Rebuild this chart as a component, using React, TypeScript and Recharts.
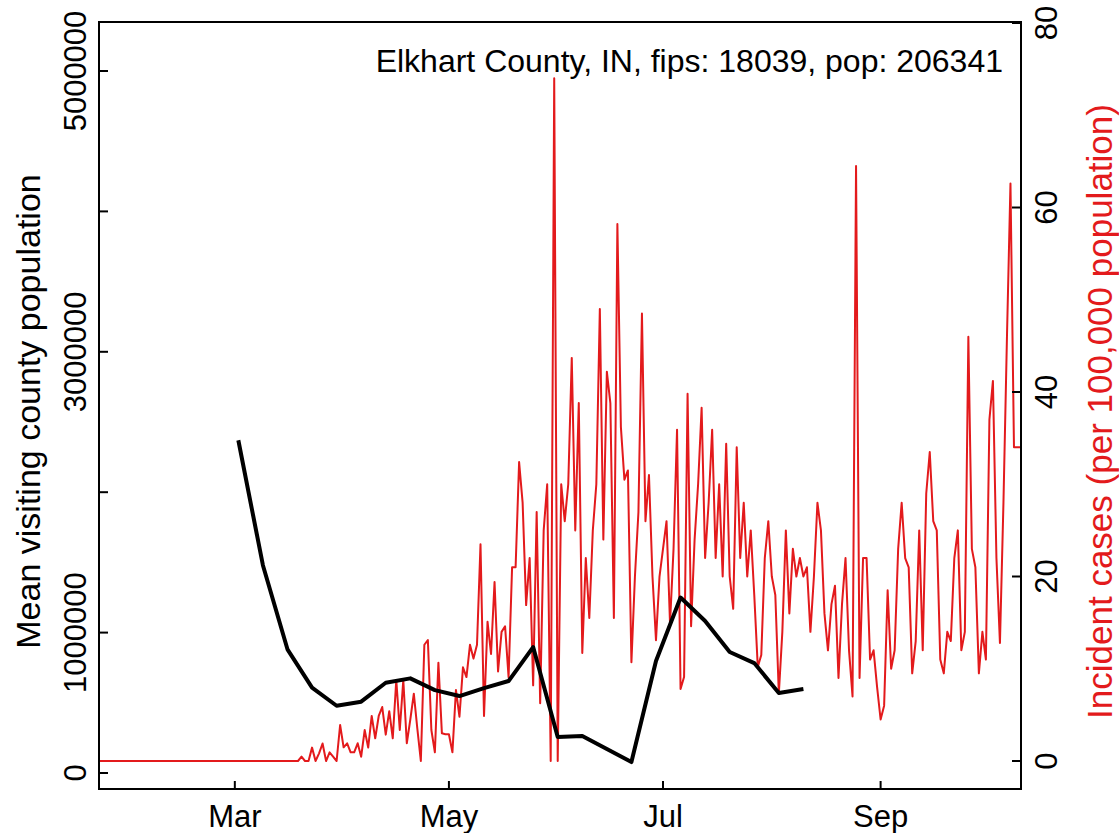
import { LineChart, Line, XAxis, YAxis, ReferenceArea, CartesianGrid } from "recharts";

// daily incident cases per 100,000, starting 2020-01-22
const caseStart = "2020-01-22";
const cases = [
  0, 0, 0, 0, 0, 0, 0, 0, 0, 0,
  0, 0, 0, 0, 0, 0, 0, 0, 0, 0,
  0, 0, 0, 0, 0, 0, 0, 0, 0, 0,
  0, 0, 0, 0, 0, 0, 0, 0, 0, 0,
  0, 0, 0, 0, 0, 0, 0, 0, 0, 0,
  0, 0, 0, 0, 0, 0, 0, 0,
  0.47, 0, 0, 1.45, 0, 0.83, 1.9, 0, 0.94, 0.47,
  0, 3.9, 1.48, 1.92, 0.94, 0.94, 1.92, 0.47, 3.36, 1.45,
  4.88, 2.46, 4.88, 5.85, 2.86, 5.4, 2.46, 8.78, 3.36, 8.78,
  1.92, 4.5, 7.3, 3.5, 0, 12.6, 13.1, 3.36, 0.94, 10.66,
  3.0, 2.9, 2.9, 0.94, 7.7, 4.8, 10.15, 9.1, 12.6, 11.1,
  12.6, 23.5, 4.88, 15.1, 11.6, 19.4, 9.7, 14, 14.6, 9.1,
  21, 21, 32.4, 28, 16.9, 22, 8.2, 27, 6.25, 25,
  30, 0, 74, 0, 30, 26, 30, 43.7, 25, 38.8,
  11.7, 22, 15.5, 25, 30, 49, 24, 42.2, 38.8, 15.5,
  58.2, 36.2, 30.5, 31.5, 10.7, 20, 27, 48.5, 26, 31,
  20, 13.1, 20, 23, 26, 14.9, 23, 35.9, 7.8, 9.1,
  39.8, 14.6, 24, 30, 38.3, 22, 28, 35.9, 22, 30,
  20, 34.4, 20, 16.5, 34, 22, 28, 20, 25, 18,
  10.2, 11.5, 22, 26, 20, 18, 7.3, 14, 25, 16,
  23, 20, 22, 20, 21, 14, 20, 28, 25, 16,
  12, 17, 19, 9, 17, 22, 12, 7, 64.5, 9,
  22, 22, 11, 12, 8, 4.5, 6, 18.5, 10, 12,
  23, 28, 22, 21, 9.5, 13, 25, 12, 29, 33.5,
  26, 25, 11, 9.5, 14, 13, 22, 25, 12, 14,
  46, 23, 21, 9.5, 14, 11, 37, 41.2, 22, 12.8,
  28, 46, 62.6, 34, 34, 34,
];

// weekly mean visiting county population
const visitDates = [
  "2020-03-02", "2020-03-09", "2020-03-16", "2020-03-23", "2020-03-30",
  "2020-04-06", "2020-04-13", "2020-04-20", "2020-04-27", "2020-05-04",
  "2020-05-11", "2020-05-18", "2020-05-25", "2020-06-01", "2020-06-08",
  "2020-06-15", "2020-06-22", "2020-06-29", "2020-07-06", "2020-07-13",
  "2020-07-20", "2020-07-27", "2020-08-03", "2020-08-10",
];
const visitors = [
  2370000, 1480000, 881000, 608000, 479000,
  508000, 643000, 674000, 590000, 548000,
  605000, 655000, 897000, 256000, 264000,
  171000, 78000, 798000, 1250000, 1083000,
  862000, 783000, 570000, 598000,
];

const monthTicks = ["2020-03-01", "2020-05-01", "2020-07-01", "2020-09-01"];
const monthLabels = ["Mar", "May", "Jul", "Sep"];
const leftTicks = [0, 1000000, 2000000, 3000000, 4000000, 5000000];
const leftLabelled = [0, 1000000, 3000000, 5000000];
const rightTicks = [0, 20, 40, 60, 80];
const title = "Elkhart County, IN, fips: 18039, pop: 206341";

const FONT = "'Liberation Sans', Arial, Helvetica, sans-serif";
const RED = "#e31a1c";

const origin = Date.UTC(2020, 2, 1);
const dayOf = (s: string) => {
  const [y, m, d] = s.split("-").map(Number);
  return Math.round((Date.UTC(y, m - 1, d) - origin) / 86400000);
};

const firstDay = dayOf(caseStart);
const rows: { d: number; cases: number; visitors?: number }[] = cases.map((c, i) => ({
  d: firstDay + i,
  cases: c,
}));
visitDates.forEach((s, i) => {
  const row = rows.find((r) => r.d === dayOf(s));
  if (row) row.visitors = visitors[i];
});

const xTicks = monthTicks.map(dayOf);
const xDomain = [-38.7, 224];
const leftDomain = [-114000, 5349000];

const BottomTick = (p: any) => {
  const idx = xTicks.indexOf(p.payload.value);
  return (
    <g>
      <line x1={p.x} y1={p.y} x2={p.x} y2={p.y - 8} stroke="#000" strokeWidth={2} />
      <text x={p.x} y={p.y + 38} textAnchor="middle" fontSize={31} fontFamily={FONT} fill="#000">
        {monthLabels[idx]}
      </text>
    </g>
  );
};

const LeftTick = (p: any) => (
  <g>
    <line x1={p.x} y1={p.y} x2={p.x + 9} y2={p.y} stroke="#000" strokeWidth={2} />
    {leftLabelled.includes(p.payload.value) && (
      <text
        transform={`translate(${p.x - 13},${p.y}) rotate(-90)`}
        textAnchor="middle"
        fontSize={31}
        fontFamily={FONT}
        fill="#000"
      >
        {String(p.payload.value)}
      </text>
    )}
  </g>
);

const RightTick = (p: any) => (
  <g>
    <line x1={p.x} y1={p.y} x2={p.x - 9} y2={p.y} stroke="#000" strokeWidth={2} />
    <text
      transform={`translate(${p.x + 36},${p.y}) rotate(-90)`}
      textAnchor="middle"
      fontSize={31}
      fontFamily={FONT}
      fill="#000"
    >
      {String(p.payload.value)}
    </text>
  </g>
);

export default function App() {
  return (
    <div style={{ position: "absolute", left: 0, top: 0, background: "#fff" }}>
      <LineChart
        width={1119}
        height={833}
        data={rows}
        margin={{ top: 22, right: 0, bottom: 0, left: 0 }}
      >
        {/* top edge of the box */}
        <CartesianGrid
          vertical={false}
          horizontalCoordinatesGenerator={({ offset }: any) => [offset.top]}
          stroke="#000"
          strokeWidth={2}
          strokeOpacity={1}
        />
        <XAxis
          dataKey="d"
          type="number"
          domain={xDomain}
          allowDataOverflow
          ticks={xTicks}
          tick={BottomTick}
          tickLine={false}
          tickSize={0}
          tickMargin={0}
          height={44}
          axisLine={{ stroke: "#000", strokeWidth: 2 }}
        />
        <YAxis
          yAxisId="left"
          type="number"
          domain={leftDomain}
          allowDataOverflow
          ticks={leftTicks}
          tick={LeftTick}
          tickLine={false}
          tickSize={0}
          tickMargin={0}
          width={99}
          axisLine={{ stroke: "#000", strokeWidth: 2 }}
          label={{
            content: (lp: any) => (
              <text
                transform={`translate(${lp.viewBox.x + 40},${lp.viewBox.y + lp.viewBox.height / 2 + 6}) rotate(-90)`}
                textAnchor="middle"
                fontSize={34}
                fontFamily={FONT}
                fill="#000"
              >
                Mean visiting county population
              </text>
            ),
          }}
        />
        <YAxis
          yAxisId="right"
          orientation="right"
          type="number"
          domain={[-3.035, 80.11]}
          allowDataOverflow
          ticks={rightTicks}
          tick={RightTick}
          tickLine={false}
          tickSize={0}
          tickMargin={0}
          width={98}
          axisLine={{ stroke: "#000", strokeWidth: 2 }}
          label={{
            content: (lp: any) => (
              <text
                transform={`translate(${lp.viewBox.x + 91},${lp.viewBox.y + lp.viewBox.height / 2 + 6}) rotate(-90)`}
                textAnchor="middle"
                fontSize={35}
                fontFamily={FONT}
                fill={RED}
              >
                Incident cases (per 100,000 population)
              </text>
            ),
          }}
        />
        {/* plot box frame, carrying the county title */}
        <ReferenceArea
          yAxisId="left"
          x1={xDomain[0]}
          x2={xDomain[1]}
          y1={leftDomain[0]}
          y2={leftDomain[1]}
          fill="none"
          fillOpacity={0}
          stroke="#000"
          strokeWidth={2}
          strokeOpacity={1}
          ifOverflow="visible"
          label={{
            content: (lp: any) => (
              <text
                x={lp.viewBox.x + lp.viewBox.width - 18}
                y={lp.viewBox.y + 50}
                textAnchor="end"
                fontSize={32}
                fontFamily={FONT}
                fill="#000"
              >
                {title}
              </text>
            ),
          }}
        />
        <Line
          yAxisId="right"
          dataKey="cases"
          type="linear"
          stroke={RED}
          strokeWidth={2}
          strokeLinejoin="round"
          dot={false}
          activeDot={false}
          isAnimationActive={false}
        />
        <Line
          yAxisId="left"
          dataKey="visitors"
          type="linear"
          stroke="#000"
          strokeWidth={4}
          strokeLinejoin="round"
          connectNulls
          dot={false}
          activeDot={false}
          isAnimationActive={false}
        />
      </LineChart>
    </div>
  );
}
